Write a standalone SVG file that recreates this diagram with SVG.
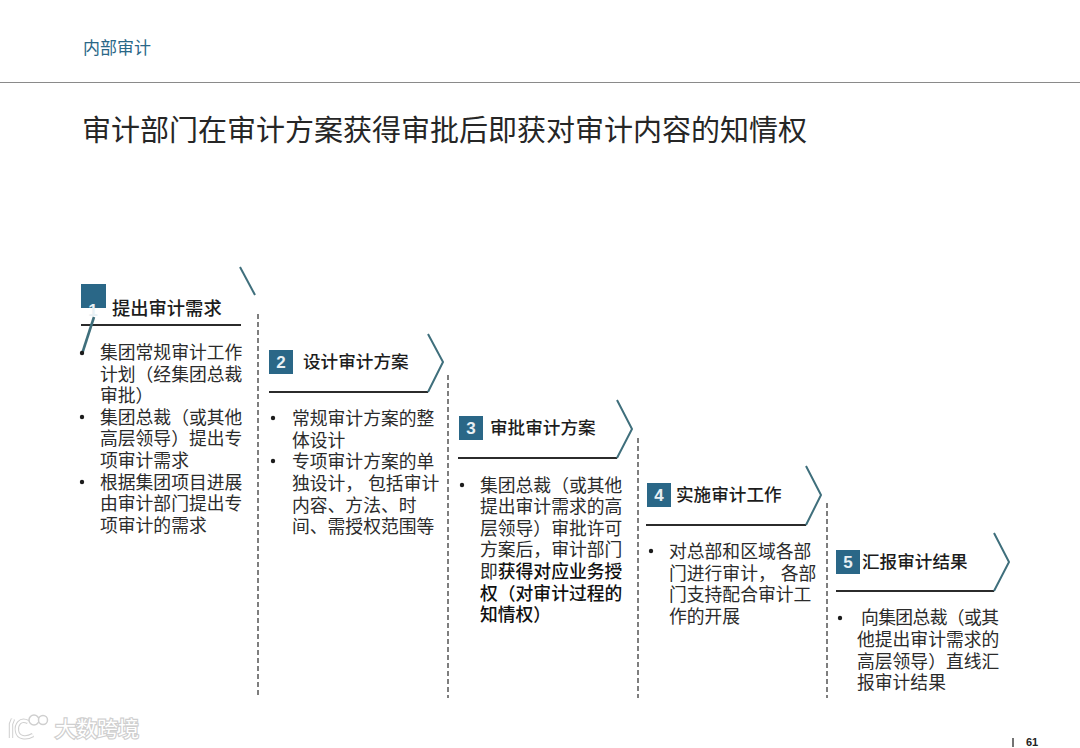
<svg xmlns="http://www.w3.org/2000/svg" width="1080" height="748" viewBox="0 0 1080 748">
<style>
text{font-family:"Liberation Sans","Noto Sans CJK SC",sans-serif;fill:#2b2b2b}
.b{font-size:17.8px}
.h{font-size:17.6px;font-weight:500;fill:#1c1c1c}
.bold{font-weight:500;fill:#111}
.n{font-family:"Liberation Sans",Arial,sans-serif;font-size:17px;font-weight:700;fill:#e8f0f4;text-anchor:middle}
.box{fill:#2a6787}
.rule{stroke:#2b2b2b;stroke-width:2;fill:none}
.chev{stroke:#3f6f7c;stroke-width:2;fill:none}
.dash{stroke:#3a3a3a;stroke-width:1.3;stroke-dasharray:5 3;fill:none}
.dot{fill:#1c1c1c}
.wm{font-size:21px;fill:#fff;stroke:#cfcfcf;stroke-width:2.4;paint-order:stroke}
</style>
<g id="header">
<text x="83" y="54" font-size="17" style="fill:#2a6787">内部审计</text>
<line x1="0" y1="82.500" x2="1080" y2="82.500" stroke="#8a8a8a" stroke-width="1.200"/>
<text x="82" y="141" font-size="29" style="fill:#262626">审计部门在审计方案获得审批后即获对审计内容的知情权</text>
</g>
<g id="connectors">
<line class="dash" x1="258" y1="314" x2="258" y2="698"/>
<line class="dash" x1="448" y1="375" x2="448" y2="698"/>
<line class="dash" x1="638" y1="438" x2="638" y2="698"/>
<line class="dash" x1="827" y1="503" x2="827" y2="698"/>
</g>
<g id="step1">
<rect class="box" x="81" y="284" width="25" height="24"/>
<text class="n" x="93" y="316">1</text>
<text class="h" x="112" y="315" style="font-size:18.300px">提出审计需求</text>
<line class="rule" x1="81" y1="325" x2="241" y2="325"/>
<path class="chev" d="M240 267L255 295"/>
<path class="chev" d="M94 317L82 354" style="stroke-width:2.600"/>
<circle class="dot" cx="82" cy="353" r="2.200"/>
<text class="b" x="100" y="359">集团常规审计工作</text>
<text class="b" x="100" y="381">计划（经集团总裁</text>
<text class="b" x="100" y="402">审批）</text>
<circle class="dot" cx="82" cy="417" r="2.200"/>
<text class="b" x="100" y="424">集团总裁（或其他</text>
<text class="b" x="100" y="445">高层领导）提出专</text>
<text class="b" x="100" y="467">项审计需求</text>
<circle class="dot" cx="82" cy="482" r="2.200"/>
<text class="b" x="100" y="489">根据集团项目进展</text>
<text class="b" x="100" y="510">由审计部门提出专</text>
<text class="b" x="100" y="532">项审计的需求</text>
</g>
<g id="step2">
<rect class="box" x="269" y="350" width="24" height="24"/>
<text class="n" x="281" y="368">2</text>
<text class="h" x="303" y="368">设计审计方案</text>
<path class="rule" d="M269 392H428"/>
<path class="chev" d="M428 334L443 362L428 392"/>
<circle class="dot" cx="273" cy="418" r="2.200"/>
<text class="b" x="292" y="425">常规审计方案的整</text>
<text class="b" x="292" y="447">体设计</text>
<circle class="dot" cx="273" cy="461" r="2.200"/>
<text class="b" x="292" y="468">专项审计方案的单</text>
<text class="b" x="292" y="490">独设计， 包括审计</text>
<text class="b" x="292" y="512">内容、方法、时</text>
<text class="b" x="292" y="533">间、需授权范围等</text>
</g>
<g id="step3">
<rect class="box" x="459" y="416" width="24" height="24"/>
<text class="n" x="471" y="434">3</text>
<text class="h" x="490" y="434">审批审计方案</text>
<path class="rule" d="M458 458H617"/>
<path class="chev" d="M617 400L632 429L617 458"/>
<circle class="dot" cx="462" cy="485" r="2.200"/>
<text class="b" x="480" y="492">集团总裁（或其他</text>
<text class="b" x="480" y="513">提出审计需求的高</text>
<text class="b" x="480" y="535">层领导）审批许可</text>
<text class="b" x="480" y="556">方案后，审计部门</text>
<text class="b" x="480" y="578">即<tspan class="bold">获得对应业务授</tspan></text>
<text class="b bold" x="480" y="600">权（对审计过程的</text>
<text class="b bold" x="480" y="621">知情权）</text>
</g>
<g id="step4">
<rect class="box" x="647" y="483" width="24" height="24"/>
<text class="n" x="659" y="501">4</text>
<text class="h" x="676" y="501">实施审计工作</text>
<path class="rule" d="M646 525H806"/>
<path class="chev" d="M806 466L821 495L806 525"/>
<circle class="dot" cx="651" cy="551" r="2.200"/>
<text class="b" x="669" y="558">对总部和区域各部</text>
<text class="b" x="669" y="580">门进行审计， 各部</text>
<text class="b" x="669" y="601">门支持配合审计工</text>
<text class="b" x="669" y="623">作的开展</text>
</g>
<g id="step5">
<rect class="box" x="836" y="550" width="24" height="24"/>
<text class="n" x="848" y="568">5</text>
<text class="h" x="862" y="568">汇报审计结果</text>
<path class="rule" d="M836 591H994"/>
<path class="chev" d="M994 533L1009 562L994 591"/>
<circle class="dot" cx="840" cy="618" r="2.200"/>
<text class="b" x="861" y="624" textLength="138">向集团总裁（或其</text>
<text class="b" x="857" y="646">他提出审计需求的</text>
<text class="b" x="857" y="668">高层领导）直线汇</text>
<text class="b" x="857" y="689">报审计结果</text>
</g>
<g id="footer">
<line x1="1013" y1="738" x2="1013" y2="747" stroke="#444" stroke-width="1.500"/>
<text x="1026" y="746" style="font-size:11px;font-weight:700;fill:#222">61</text>
</g>
<g id="watermark">
<path d="M13 719L11 724V738M28 722C20 718 16 725 17 731C18 738 26 739 33 735" fill="none" stroke="#cfcfcf" stroke-width="4.400"/>
<path d="M13 719L11 724V738M28 722C20 718 16 725 17 731C18 738 26 739 33 735" fill="none" stroke="#fff" stroke-width="2.400"/>
<circle cx="34" cy="720" r="5" fill="#fff" stroke="#cfcfcf" stroke-width="1.500"/>
<circle cx="43" cy="720" r="4.500" fill="#fff" stroke="#cfcfcf" stroke-width="1.500"/>
<text class="wm" x="55" y="736">大数跨境</text>
</g>
</svg>
